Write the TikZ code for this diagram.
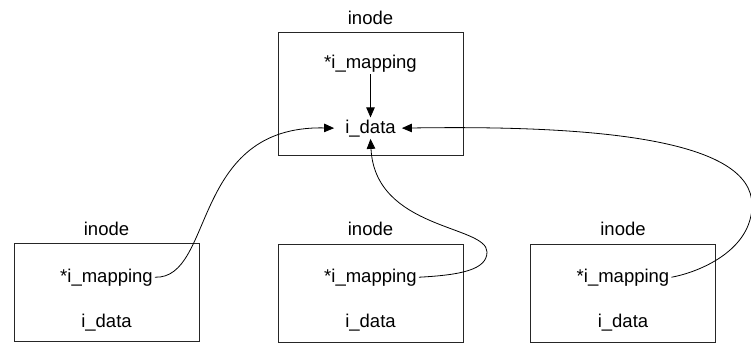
\documentclass[tikz,border=0pt]{standalone}
\usepackage{fontspec}
\setmainfont{Liberation Sans}
\usetikzlibrary{arrows.meta}
\begin{document}
\begin{tikzpicture}[x=1pt,y=-1pt,
  box/.style={draw=black!85, line width=0.8pt, minimum width=185pt, inner sep=0pt},
  lbl/.style={font=\fontsize{18.5}{22}\selectfont, anchor=base, inner sep=2pt},
  conn/.style={line width=0.8pt},
  arr/.style={conn, -{Triangle[length=10pt,width=8.5pt]}}]
\useasboundingbox (0,0) rectangle (751,353);
% boxes
\node[box, minimum height=123pt] (tbox) at (370.5,93.5) {};
\node[box, minimum height=98pt] (lbox) at (106.5,292.5) {};
\node[box, minimum height=98pt] (mbox) at (370.5,293) {};
\node[box, minimum height=98pt] (rbox) at (623,293) {};
% titles
\node[lbl] (ttitle) at (370.5,25) {inode};
\node[lbl] (ltitle) at (106.5,235) {inode};
\node[lbl] (mtitle) at (370.5,235) {inode};
\node[lbl] (rtitle) at (623,235) {inode};
% fields
\node[lbl] (tmap) at (370.5,68) {*i\_mapping};
\node[lbl] (tdata) at (370.5,133) {i\_data};
\node[lbl] (lmap) at (106.5,282) {*i\_mapping};
\node[lbl] (ldata) at (106.5,327) {i\_data};
\node[lbl] (mmap) at (370.5,282) {*i\_mapping};
\node[lbl] (mdata) at (370.5,327) {i\_data};
\node[lbl] (rmap) at (623,282) {*i\_mapping};
\node[lbl] (rdata) at (623,327) {i\_data};
% connectors
\draw[arr] (tmap) -- (tdata);
\draw[arr] (lmap.east) .. controls (215,279) and (190,125) .. ([xshift=-9pt]tdata.west);
\draw[arr] (mmap.east) .. controls (460,275) and (487,270) .. (487,252)
  .. controls (487,225) and (375,230) .. (tdata.south);
\draw[arr] (rmap.east) .. controls (700,272) and (752,250) .. (752,205)
  .. controls (752,140) and (600,125) .. ([xshift=4pt]tdata.east);
\end{tikzpicture}
\end{document}
